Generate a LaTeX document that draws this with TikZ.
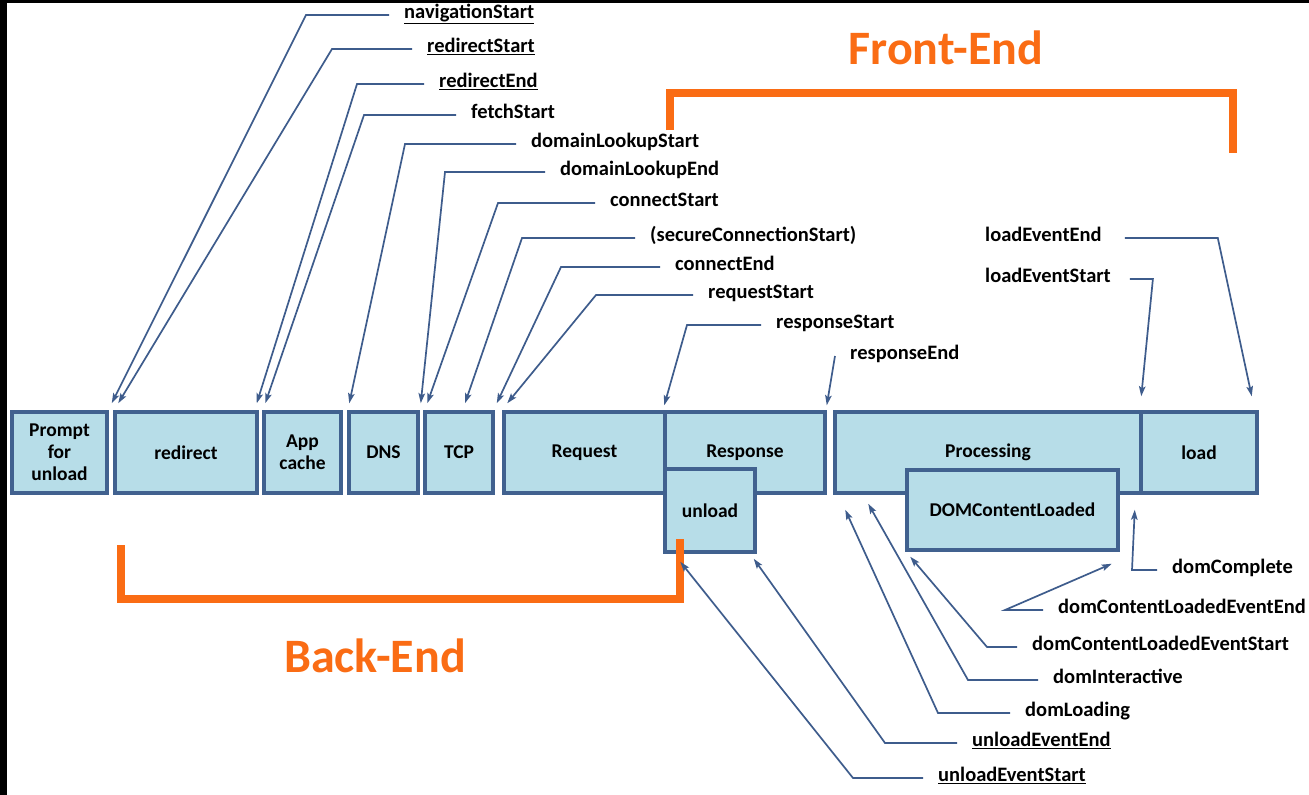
\documentclass[tikz,border=0pt]{standalone}
\usepackage{fontspec}
\setmainfont{Carlito}
\usetikzlibrary{arrows,arrows.meta}
\usetikzlibrary{calc,positioning}
\definecolor{phaseblue}{RGB}{183,221,232}
\definecolor{phaseline}{RGB}{65,97,143}
\definecolor{tickblue}{RGB}{62,92,140}
\definecolor{endorange}{RGB}{250,108,20}

\begin{document}
\begin{tikzpicture}[x=1pt,y=-1pt,>={Stealth[length=10pt,width=6.5pt,inset=2pt]}]
	\tikzstyle{phase}=[draw=phaseline, fill=phaseblue, line width=3.5pt, inner sep=0pt,
	minimum height=81, align=center, font=\fontsize{19.5}{22}\selectfont\bfseries]
	\tikzstyle{event}=[anchor=west, inner xsep=15pt, inner ysep=0pt, text height=0.7em,
	text depth=0pt, font=\fontsize{20.5}{22}\selectfont\bfseries]
	\tikzstyle{tick}=[tickblue, line width=1.7pt, ->]
	\tikzstyle{bracket}=[endorange, line width=8pt]
	\tikzstyle{side}=[endorange, font=\fontsize{48}{52}\selectfont\bfseries]
	% frame
	\useasboundingbox (0,0) rectangle (1309,795);
	\fill[black] (0,0) rectangle (1309,795);
	\fill[white] (7,3) rectangle (1309,795);
	% phases
	\node[phase, minimum width=95] (prompt) at (59.5,452.5) {Prompt\\for\\unload};
	\node[phase, minimum width=142] (redirect) at (186,452.5) {redirect};
	\node[phase, minimum width=77] (appcache) at (302.5,452.5) {App\\cache};
	\node[phase, minimum width=69] (dns) at (383.5,452.5) {DNS};
	\node[phase, minimum width=68] (tcp) at (459,452.5) {TCP};
	\node[phase, minimum width=161] (request) at (584.5,452.5) {Request};
	\node[phase, minimum width=160] (response) at (745,452.5) {Response};
	\node[phase, minimum width=90, minimum height=83] (unload) at (710,510.5) {unload};
	\node[phase, minimum width=306] (processing) at (988,452.5) {Processing};
	\node[phase, minimum width=116] (load) at (1199,452.5) {load};
	\node[phase, minimum width=211, minimum height=80] (domcl) at (1012.5,510) {DOMContentLoaded};
	% front / back
	\node[side] (front) at (946,48) {Front-End};
	\node[side] (back) at (375,656) {Back-End};
	\draw[bracket] (670,130) -- (670,93) -- (1233,93) -- (1233,153);
	\draw[bracket] (121,545) -- (121,599) -- (680,599) -- (680,539);
	% timing events
	\node[event] (navS) at (389,15) {\underline{navigationStart}};
	\node[event] (redS) at (412,49) {\underline{redirectStart}};
	\node[event] (redE) at (424,84) {\underline{redirectEnd}};
	\node[event] (fetchS) at (456,115) {fetchStart};
	\node[event] (dlS) at (516,144) {domainLookupStart};
	\node[event] (dlE) at (545,172) {domainLookupEnd};
	\node[event] (conS) at (595,203) {connectStart};
	\node[event] (secS) at (635,238) {(secureConnectionStart)};
	\node[event] (conE) at (660,267) {connectEnd};
	\node[event] (reqS) at (693,295) {requestStart};
	\node[event] (resS) at (761,325) {responseStart};
	\node[event] (resE) at (835,356) {responseEnd};
	\node[event] (loadE) at (970,238) {loadEventEnd};
	\node[event] (loadS) at (970,279) {loadEventStart};
	\node[event] (domC) at (1157,570) {domComplete};
	\node[event] (dclEE) at (1043,610) {domContentLoadedEventEnd};
	\node[event] (dclES) at (1017,647) {domContentLoadedEventStart};
	\node[event] (domI) at (1038,680) {domInteractive};
	\node[event] (domL) at (1010,713) {domLoading};
	\node[event] (unlE) at (957,743) {\underline{unloadEventEnd}};
	\node[event] (unlS) at (923,778) {\underline{unloadEventStart}};

	\draw[tick] (navS.west) -- ++(-83,0) -- ([xshift=3pt,yshift=7pt]prompt.north east);
	\draw[tick] (redS.west) -- ++(-80,0) -- ([xshift=5pt,yshift=7pt]redirect.north west);
	\draw[tick] (redE.west) -- ++(-67,0) -- ([xshift=-2pt,yshift=7pt]redirect.north east);
	\draw[tick] (fetchS.west) -- ++(-92,0) -- ([xshift=3pt,yshift=7pt]appcache.north west);
	\draw[tick] (dlS.west) -- ++(-111,0) -- ([xshift=2pt,yshift=7pt]dns.north west);
	\draw[tick] (dlE.west) -- ++(-100,0) -- ([xshift=1pt,yshift=7pt]dns.north east);
	\draw[tick] (conS.west) -- ++(-97,0) -- ([xshift=4pt,yshift=7pt]tcp.north west);
	\draw[tick] (secS.west) -- ++(-113,0) -- ([xshift=6pt,yshift=7pt]tcp.north);
	\draw[tick] (conE.west) -- ++(-99,0) -- ([xshift=2pt,yshift=7pt]tcp.north east);
	\draw[tick] (reqS.west) -- ++(-97,0) -- ([xshift=5pt,yshift=7pt]request.north west);
	\draw[tick] (resS.west) -- ++(-74,0) -- ([xshift=1pt,yshift=5pt]response.north west);
	\draw[tick] (resE.west) -- ([yshift=5pt]response.north east);
	\draw[tick] ([xshift=8pt]loadE.east) -- ++(93,0) -- ([xshift=-7pt,yshift=14pt]load.north east);
	\draw[tick] ([xshift=4pt]loadS.east) -- ++(23,0) -- ([xshift=2pt,yshift=14pt]load.north west);
	\draw[tick] (domC.west) -- ++(-25,0) -- ([xshift=-8pt,yshift=-15pt]processing.south east);
	\draw[tick] (dclEE.west) -- ++(-38,0) -- ([xshift=-8pt,yshift=-12pt]domcl.south east);
	\draw[tick] (dclES.west) -- ++(-30,0) -- ([xshift=5pt,yshift=-5pt]domcl.south west);
	\draw[tick] (domI.west) -- ++(-70,0) -- ([xshift=35pt,yshift=-9pt]processing.south west);
	\draw[tick] (domL.west) -- ++(-72,0) -- ([xshift=12pt,yshift=-15pt]processing.south west);
	\draw[tick] (unlE.west) -- ++(-72,0) -- ([xshift=-3pt,yshift=-5pt]unload.south east);
	\draw[tick] (unlS.west) -- ++(-70,0) -- ([xshift=17pt,yshift=-8pt]unload.south west);
\end{tikzpicture}
\end{document}
